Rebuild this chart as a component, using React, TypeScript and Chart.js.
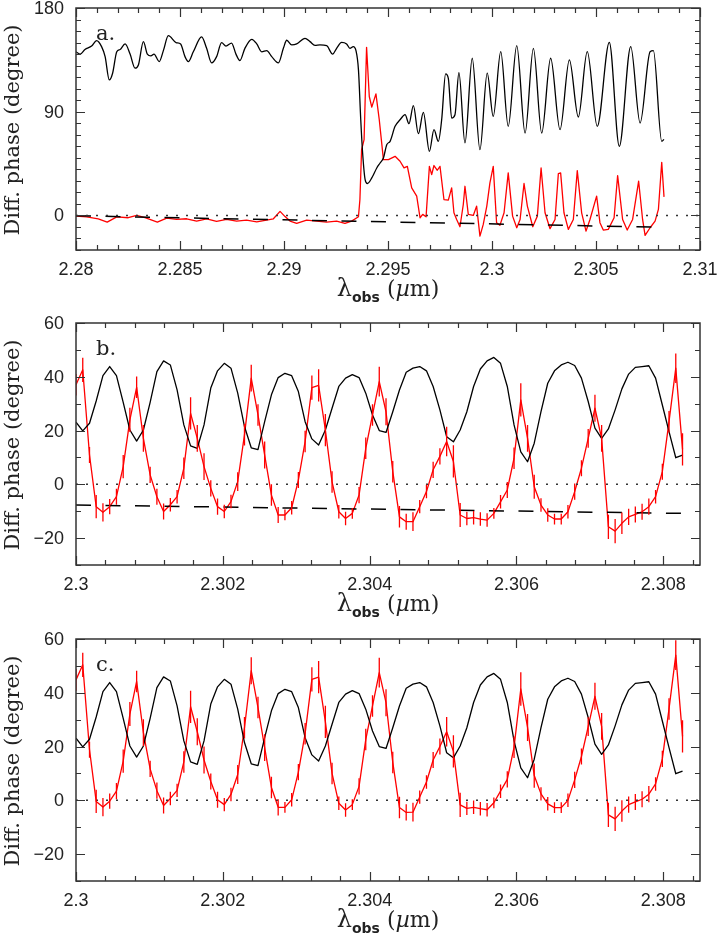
import React, { useEffect, useRef } from "react";
import { Chart, registerables } from "chart.js";

Chart.register(...registerables);

// ---------------- Panel a data ----------------
const aBlackX = [
  2.28, 2.2802, 2.28043, 2.28075, 2.28099, 2.28123, 2.2814, 2.2816, 2.28176, 2.28196,
  2.28212, 2.28236, 2.2826, 2.28284, 2.283, 2.28324, 2.28343, 2.2836, 2.28375, 2.284,
  2.2842, 2.28444, 2.28481, 2.28503, 2.28524, 2.2854, 2.28564, 2.28604, 2.28628, 2.28652,
  2.28676, 2.287, 2.28721, 2.28748, 2.28769, 2.28788, 2.28812, 2.28845, 2.28869, 2.28893,
  2.28917, 2.28941, 2.28973, 2.28997, 2.29013, 2.29037, 2.29061, 2.29101, 2.29125, 2.29149,
  2.29173, 2.29205, 2.29234, 2.29253, 2.29277, 2.29301, 2.29317, 2.29333, 2.29346, 2.29358,
  2.29369, 2.29378, 2.2939, 2.29401, 2.29422, 2.29446, 2.29462, 2.29478, 2.29494, 2.2951,
  2.29534, 2.29558, 2.29582, 2.29601, 2.29622, 2.29646, 2.2967, 2.29699, 2.29721, 2.29742,
  2.29758, 2.29777, 2.2979, 2.29806, 2.29822, 2.29841, 2.2987, 2.29905, 2.29942, 2.29977,
  2.30006, 2.30042, 2.30078, 2.30119, 2.30159, 2.30199, 2.30239, 2.30282, 2.30327, 2.30372,
  2.30415, 2.30458, 2.30506, 2.30564, 2.30612, 2.30667, 2.30712, 2.3076, 2.30776, 2.30816,
  2.30827,
];
const aBlackY = [
  142, 140, 144, 147, 151.7, 146.5, 137.8, 117.6, 123.4, 142,
  144, 148.8, 140, 127.8, 130.6, 150.8, 140, 138.4, 140, 133.5,
  143, 156, 150, 148.8, 137.8, 133.5, 142, 155, 145, 132.4,
  137.8, 150, 147, 149.6, 140, 134.4, 145, 152.8, 148.8, 142,
  143, 137.8, 132.4, 145, 152, 148, 148.8, 153.7, 150.8, 147.6,
  148, 147.3, 140, 145, 150.2, 148.8, 145, 146.5, 143, 126.3,
  83, 54.2, 31.1, 27.7, 32.6, 41.2, 45.5, 49.9, 61.4, 64.3,
  77.3, 83, 87.4, 79.6, 95.2, 70.9, 89.4, 55.6, 74.4, 64.3,
  83, 122.8, 119, 84.5, 87.4, 124, 62.9, 136.4, 57.1, 123.4,
  85.9, 142.1, 77.3, 147.3, 71.5, 145, 71.5, 136.4, 74.4, 135,
  85.4, 142.1, 77.3, 150.2, 60, 146.5, 80.2, 142.1, 143, 64.3,
  66,
];
const aRedX = [
  2.28, 2.28051, 2.28107, 2.2815, 2.28196, 2.28251, 2.28292, 2.28332, 2.28391, 2.28436,
  2.28484, 2.28532, 2.2858, 2.28628, 2.28676, 2.28724, 2.28772, 2.2882, 2.28869, 2.28909,
  2.28949, 2.28981, 2.29005, 2.29029, 2.29061, 2.29109, 2.29157, 2.29205, 2.29253, 2.29293,
  2.29325, 2.29358, 2.29365, 2.29373, 2.29385, 2.29397, 2.2941, 2.29422, 2.29442, 2.29458,
  2.29478, 2.29502, 2.29534, 2.29558, 2.29577, 2.29593, 2.29614, 2.29638, 2.29654, 2.29667,
  2.29683, 2.29699, 2.2971, 2.29721, 2.29737, 2.2975, 2.29769, 2.2979, 2.29806, 2.29817,
  2.2983, 2.29846, 2.29862, 2.2987, 2.29886, 2.2991, 2.29926, 2.29942, 2.29958, 2.29975,
  2.2999, 2.30006, 2.30022, 2.30038, 2.30058, 2.30078, 2.30099, 2.30119, 2.30135, 2.30154,
  2.3017, 2.30196, 2.30218, 2.30236, 2.30255, 2.30279, 2.30303, 2.30319, 2.3033, 2.30346,
  2.30367, 2.30391, 2.3041, 2.30431, 2.30452, 2.30471, 2.30503, 2.30519, 2.30535, 2.30559,
  2.30587, 2.30604, 2.30628, 2.3065, 2.30676, 2.30705, 2.30724, 2.30736, 2.3076, 2.30784,
  2.308, 2.30816, 2.30827,
];
const aRedY = [
  -0.6, -1.2, -2.9, -5.8, -1.2, -2, 0, -2, -5.8, -2.3,
  -3.5, -2.9, -4.9, -2.9, -5.2, -3.5, -4.9, -4, -5.5, -4.3,
  -2.9, 3.5, -1, -4.9, -6.9, -4, -4.9, -5.8, -4.9, -6.9,
  -4.9, -1.2, 13.8, 57, 65.7, 145.9, 103.2, 94, 105.5, 83,
  48.4, 48.4, 51.3, 47, 41.2, 42.6, 23.9, 16.7, -2, 0.9,
  -1.2, 42.6, 35.4, 43.3, 39.2, 42.6, 13.8, 13.3, 23.9, 2.3,
  -3.5, -9.8, 9.5, 25.3, 0.9, 0, 8.1, -17.9, -7.8, 8.1,
  28.3, 42.6, -6.3, -8.6, 2.3, 36.9, -0.6, -10.7, -3.5, 27.7,
  8.1, -9.8, -0.6, 41.2, 2.3, -11.5, -3.5, 36.3, 36.9, 2.3,
  -12.1, -3.5, 38.9, 2.3, -13.6, -3.5, 16.7, -6.3, -12.7, -12.1,
  -2, 34.6, -3.5, -12.7, -3.5, 29.7, -3.5, -17.3, -10.7, -4.9,
  5.2, 46.1, 16.1,
];
const aDashX = [2.28, 2.30827];
const aDashY = [-0.3, -10.3];

// ---------------- Panels b and c data (shared wavelength grid) ----------------
const wl = [
  2.3, 2.300092, 2.300184, 2.300275, 2.300367, 2.300459, 2.300551, 2.300643, 2.300734, 2.300826,
  2.300918, 2.30101, 2.301102, 2.301193, 2.301285, 2.301377, 2.301469, 2.301561, 2.301652, 2.301744,
  2.301836, 2.301928, 2.30202, 2.302111, 2.302203, 2.302295, 2.302387, 2.302479, 2.30257, 2.302662,
  2.302754, 2.302846, 2.302938, 2.303029, 2.303121, 2.303213, 2.303305, 2.303397, 2.303488, 2.30358,
  2.303672, 2.303764, 2.303856, 2.303947, 2.304039, 2.304131, 2.304223, 2.304315, 2.304406, 2.304498,
  2.30459, 2.304682, 2.304774, 2.304865, 2.304957, 2.305049, 2.305141, 2.305233, 2.305324, 2.305416,
  2.305508, 2.3056, 2.305692, 2.305783, 2.305875, 2.305967, 2.306059, 2.306151, 2.306242, 2.306334,
  2.306426, 2.306518, 2.30661, 2.306701, 2.306793, 2.306885, 2.306977, 2.307069, 2.30716, 2.307252,
  2.307344, 2.307436, 2.307528, 2.307619, 2.307711, 2.307803, 2.307895, 2.307987, 2.308078, 2.30817,
  2.308262,
];
const bcBlack = [
  23.1, 19.9, 22.7, 31, 40.4, 43.8, 40.4, 30.5, 20.2, 16.1,
  20.2, 30.5, 41.9, 45.9, 44.4, 35.1, 22.1, 14.3, 13.4, 22.1,
  35.8, 42.2, 45, 43.2, 33.9, 21.5, 13.6, 12.9, 23.3, 33.3,
  39.7, 41.3, 40.4, 34.5, 23.3, 16.9, 14.6, 20.2, 28.3, 36.4,
  39.5, 40.8, 39.7, 33.9, 25.8, 20, 19.3, 27, 35.1, 41.7,
  43.2, 43.8, 42.2, 36.4, 27.7, 17.7, 15.8, 20.2, 27, 36.4,
  42.9, 45.9, 47.2, 45, 36.4, 22.1, 12.1, 8.4, 15.3, 27,
  37.6, 42.2, 44.4, 45.4, 44.2, 39.5, 30.8, 20.9, 17.1, 20.6,
  27.7, 35.5, 41, 43.5, 43.8, 44.1, 39.5, 29.5, 19.6, 9.9,
  10.9,
];
const bRed = [
  37, 42.6, 10.9, -8.3, -10.4, -8.3, -4.6, 6.6, 24, 36.1,
  17.1, 3.5, -4.6, -10.1, -7.6, -4.6, 6, 26.4, 17.1, 6.6,
  -1.5, -8.3, -10.1, -6.4, 1, 18.4, 39.5, 25.8, 10.9, -4,
  -11.4, -11.4, -8.7, 1.6, 15.9, 36, 36.8, 20.2, 0.9, -10.2,
  -12.7, -10.8, -4, 13.4, 25.8, 38.2, 27, 4.7, -12.1, -13.9,
  -13.9, -8.3, -2.7, 5.4, 10.4, 15.9, 8.5, -11.4, -12.7, -12.4,
  -12.9, -13.3, -10.8, -6.5, -2.1, 9.7, 31.4, 17.1, -0.9, -7.7,
  -11.4, -12.9, -12.9, -10.2, -2.7, 6, 17.1, 28.3, 17.1, -15.8,
  -17.4, -14.5, -12.1, -11.2, -10.2, -8.3, -4.6, 4.7, 23.3, 43.2,
  13,
];
const cRed = [
  44.8, 50.4, 18.8, -0.4, -2.5, -0.3, 3.4, 14.6, 32.1, 44.2,
  25.2, 11.7, 3.6, -1.9, 0.7, 3.7, 14.3, 34.8, 25.5, 15,
  7, 0.2, -1.6, 2.2, 9.6, 27, 48.2, 34.5, 19.6, 4.8,
  -2.6, -2.6, 0.2, 10.5, 24.8, 45, 45.8, 29.2, 10, -1.1,
  -3.6, -1.6, 5.2, 22.6, 35.1, 47.5, 36.3, 14.1, -2.7, -4.5,
  -4.4, 1.2, 6.8, 15, 20, 25.5, 18.2, -1.7, -3, -2.6,
  -3.1, -3.5, -0.9, 3.4, 7.8, 19.7, 41.4, 27.1, 9.2, 2.4,
  -1.3, -2.7, -2.7, 0, 7.6, 16.3, 27.4, 38.7, 27.5, -5.4,
  -6.9, -4, -1.6, -0.6, 0.4, 2.3, 6.1, 15.4, 34, 54,
  23.8,
];
const redErr = [
  4, 4.5, 3, 4.3, 3.4, 2.8, 3, 4.3, 4.5, 4,
  5, 3, 3, 3, 2.5, 2.5, 4, 6, 5, 5,
  3, 3, 2.5, 2.5, 3.5, 4, 5, 4, 5, 4,
  3, 2, 2.5, 3, 4, 4.5, 6, 6, 4, 2.5,
  2.5, 2, 3, 4, 4, 5.5, 5, 4, 4, 3,
  3.5, 2.5, 2.5, 3, 3, 5.5, 6, 4.5, 2.5, 2.5,
  2.5, 2.5, 2, 2.5, 3, 4, 6.2, 5, 4.5, 2.5,
  2.5, 2, 2, 2.5, 3, 3, 3.5, 5, 5, 4.5,
  4.5, 4, 3, 3, 3, 3, 2.5, 3, 4, 5.5,
  6,
];
const bDashX = [2.3, 2.30826];
const bDashY = [-7.7, -10.8];

// ---------------- Axis ticks ----------------
const aXMajor = [2.28, 2.285, 2.29, 2.295, 2.3, 2.305, 2.31];
const aXLabels = ["2.28", "2.285", "2.29", "2.295", "2.3", "2.305", "2.31"];
const aYMajor = [0, 90, 180];
const aYLabels = ["0", "90", "180"];
const bcXMajor = [2.3, 2.302, 2.304, 2.306, 2.308];
const bcXLabels = ["2.3", "2.302", "2.304", "2.306", "2.308"];
const bcYMajor = [-20, 0, 20, 40, 60];
const bcYLabels = ["\u221220", "0", "20", "40", "60"];

const yTitle = "Diff. phase (degree)";

const TICK_FONT = '18px "Liberation Sans", Arial, sans-serif';
const SERIF = '"DejaVu Serif", serif';
const AXIS_COLOR = "#333";

type Cfg = {
  label: string;
  xMin: number;
  xMax: number;
  xMajor: number[];
  xLabels: string[];
  xMinorStep: number;
  yMajor: number[];
  yLabels: string[];
  yMinorStep: number;
  errX?: number[];
  errY?: number[];
  errE?: number[];
};

function toPts(xs: number[], ys: number[]) {
  return xs.map((x, i) => ({ x, y: ys[i] }));
}

function drawXTitle(ctx: CanvasRenderingContext2D, cx: number, by: number) {
  const parts = [
    { t: "\u03bb", f: `24px ${SERIF}`, dy: 0 },
    { t: "obs", f: 'bold 14px "DejaVu Sans", sans-serif', dy: 6 },
    { t: " (", f: `22px ${SERIF}`, dy: 0 },
    { t: "\u00b5", f: `italic 22px ${SERIF}`, dy: 0 },
    { t: "m)", f: `22px ${SERIF}`, dy: 0 },
  ];
  let total = 0;
  const widths = parts.map((p) => {
    ctx.font = p.f;
    const w = ctx.measureText(p.t).width;
    total += w;
    return w;
  });
  let x = cx - total / 2;
  ctx.textAlign = "left";
  ctx.textBaseline = "alphabetic";
  parts.forEach((p, i) => {
    ctx.font = p.f;
    ctx.fillText(p.t, x, by + p.dy);
    x += widths[i];
  });
}

function makePlugin(cfg: Cfg) {
  return {
    id: "pgframe",
    afterDatasetsDraw(chart: any) {
      if (!cfg.errX || !cfg.errY || !cfg.errE) return;
      const { ctx, chartArea } = chart;
      const xs = chart.scales.x;
      const ys = chart.scales.y;
      ctx.save();
      ctx.beginPath();
      ctx.rect(chartArea.left, chartArea.top, chartArea.right - chartArea.left, chartArea.bottom - chartArea.top);
      ctx.clip();
      ctx.strokeStyle = "#ff0000";
      ctx.lineWidth = 1.3;
      ctx.beginPath();
      cfg.errX.forEach((xv, i) => {
        const px = xs.getPixelForValue(xv);
        const y1 = ys.getPixelForValue(cfg.errY![i] - cfg.errE![i]);
        const y2 = ys.getPixelForValue(cfg.errY![i] + cfg.errE![i]);
        ctx.moveTo(px, y1);
        ctx.lineTo(px, y2);
      });
      ctx.stroke();
      ctx.restore();
    },
    afterDraw(chart: any) {
      const { ctx, chartArea } = chart;
      const { left, right, top, bottom } = chartArea;
      const xs = chart.scales.x;
      const ys = chart.scales.y;
      ctx.save();
      ctx.strokeStyle = AXIS_COLOR;
      ctx.fillStyle = "#222";
      ctx.lineWidth = 1.5;
      ctx.strokeRect(left, top, right - left, bottom - top);
      const MAJ = 9;
      const MIN = 5;
      ctx.lineWidth = 1.2;
      ctx.beginPath();
      // x ticks
      const nx = Math.floor((cfg.xMax - cfg.xMin) / cfg.xMinorStep + 1e-6);
      for (let i = 0; i <= nx; i++) {
        const v = cfg.xMin + i * cfg.xMinorStep;
        const isMaj = cfg.xMajor.some((m) => Math.abs(m - v) < cfg.xMinorStep * 0.01);
        const len = isMaj ? MAJ : MIN;
        const px = Math.round(xs.getPixelForValue(v)) + 0.5;
        ctx.moveTo(px, bottom);
        ctx.lineTo(px, bottom - len);
        ctx.moveTo(px, top);
        ctx.lineTo(px, top + len);
      }
      // y ticks
      const ny = Math.round((ys.max - ys.min) / cfg.yMinorStep);
      for (let i = 0; i <= ny; i++) {
        const v = ys.min + i * cfg.yMinorStep;
        const isMaj = cfg.yMajor.some((m) => Math.abs(m - v) < 1e-6);
        const len = isMaj ? MAJ : MIN;
        const py = Math.round(ys.getPixelForValue(v)) + 0.5;
        ctx.moveTo(left, py);
        ctx.lineTo(left + len, py);
        ctx.moveTo(right, py);
        ctx.lineTo(right - len, py);
      }
      ctx.stroke();

      // tick labels
      ctx.font = TICK_FONT;
      ctx.textAlign = "center";
      ctx.textBaseline = "middle";
      cfg.xMajor.forEach((v, i) => {
        ctx.fillText(cfg.xLabels[i], xs.getPixelForValue(v), bottom + 20);
      });
      ctx.textAlign = "right";
      cfg.yMajor.forEach((v, i) => {
        ctx.fillText(cfg.yLabels[i], left - 12, ys.getPixelForValue(v) + 1);
      });

      // axis titles
      drawXTitle(ctx, (left + right) / 2, bottom + 46);
      ctx.save();
      ctx.translate(19, (top + bottom) / 2 + 1);
      ctx.rotate(-Math.PI / 2);
      ctx.font = `21px ${SERIF}`;
      ctx.textAlign = "center";
      ctx.textBaseline = "alphabetic";
      ctx.fillText(yTitle, 0, 0);
      ctx.restore();

      // panel label
      ctx.font = `21px ${SERIF}`;
      ctx.textAlign = "left";
      ctx.textBaseline = "alphabetic";
      ctx.fillText(cfg.label, left + 20, top + 32);
      ctx.restore();
    },
  };
}

function refLines(xMin: number, xMax: number) {
  return {
    data: [
      { x: xMin, y: 0 },
      { x: xMax, y: 0 },
    ],
    borderColor: "#333",
    borderWidth: 1.5,
    borderDash: [2, 8],
    pointRadius: 0,
    fill: false,
  };
}

function lineDs(data: any[], color: string, extra: any = {}) {
  return {
    data,
    borderColor: color,
    borderWidth: 1.3,
    pointRadius: 0,
    fill: false,
    tension: 0,
    ...extra,
  };
}

function makeChart(
  canvas: HTMLCanvasElement,
  datasets: any[],
  xMin: number,
  xMax: number,
  yMin: number,
  yMax: number,
  padding: { left: number; right: number; top: number; bottom: number },
  cfg: Cfg
) {
  return new Chart(canvas, {
    type: "line",
    data: { datasets },
    options: {
      animation: false,
      responsive: false,
      devicePixelRatio: 1,
      layout: { padding },
      plugins: { legend: { display: false }, tooltip: { enabled: false } },
      scales: {
        x: { type: "linear", min: xMin, max: xMax, display: false },
        y: { type: "linear", min: yMin, max: yMax, display: false },
      },
      elements: { line: { borderCapStyle: "butt", borderJoinStyle: "round" } },
    },
    plugins: [makePlugin(cfg)],
  } as any);
}

export default function App() {
  const refA = useRef<HTMLCanvasElement>(null);
  const refB = useRef<HTMLCanvasElement>(null);
  const refC = useRef<HTMLCanvasElement>(null);

  useEffect(() => {
    const charts: Chart[] = [];
    const dashStyle = { borderDash: [15, 14.5], borderWidth: 1.5 };

    charts.push(
      makeChart(
        refA.current!,
        [
          refLines(2.28, 2.31),
          lineDs(toPts(aDashX, aDashY), "#000", dashStyle),
          lineDs(toPts(aBlackX, aBlackY), "#000", { cubicInterpolationMode: "monotone" }),
          lineDs(toPts(aRedX, aRedY), "#ff0000"),
        ],
        2.28,
        2.31,
        -30,
        180,
        { left: 76, right: 17, top: 8, bottom: 65 },
        {
          label: "a.",
          xMin: 2.28,
          xMax: 2.31,
          xMajor: aXMajor,
          xLabels: aXLabels,
          xMinorStep: 0.001,
          yMajor: aYMajor,
          yLabels: aYLabels,
          yMinorStep: 10,
        }
      )
    );

    charts.push(
      makeChart(
        refB.current!,
        [
          refLines(2.3, 2.3085),
          lineDs(toPts(bDashX, bDashY), "#000", dashStyle),
          lineDs(toPts(wl, bcBlack), "#000"),
          lineDs(toPts(wl, bRed), "#ff0000"),
        ],
        2.3,
        2.3085,
        -30,
        60,
        { left: 76, right: 17, top: 8, bottom: 65 },
        {
          label: "b.",
          xMin: 2.3,
          xMax: 2.3085,
          xMajor: bcXMajor,
          xLabels: bcXLabels,
          xMinorStep: 0.0004,
          yMajor: bcYMajor,
          yLabels: bcYLabels,
          yMinorStep: 10,
          errX: wl,
          errY: bRed,
          errE: redErr,
        }
      )
    );

    charts.push(
      makeChart(
        refC.current!,
        [
          refLines(2.3, 2.3085),
          lineDs(toPts(wl, bcBlack), "#000"),
          lineDs(toPts(wl, cRed), "#ff0000"),
        ],
        2.3,
        2.3085,
        -30,
        60,
        { left: 76, right: 17, top: 9, bottom: 57 },
        {
          label: "c.",
          xMin: 2.3,
          xMax: 2.3085,
          xMajor: bcXMajor,
          xLabels: bcXLabels,
          xMinorStep: 0.0004,
          yMajor: bcYMajor,
          yLabels: bcYLabels,
          yMinorStep: 10,
          errX: wl,
          errY: cRed,
          errE: redErr,
        }
      )
    );

    return () => charts.forEach((c) => c.destroy());
  }, []);

  const cs = { position: "absolute" as const, left: 0, display: "block" };
  return (
    <div style={{ position: "absolute", left: 0, top: 0, width: 717, height: 938, background: "#fff" }}>
      <canvas ref={refA} width={717} height={315} style={{ ...cs, top: 0 }} />
      <canvas ref={refB} width={717} height={315} style={{ ...cs, top: 315 }} />
      <canvas ref={refC} width={717} height={308} style={{ ...cs, top: 630 }} />
    </div>
  );
}
